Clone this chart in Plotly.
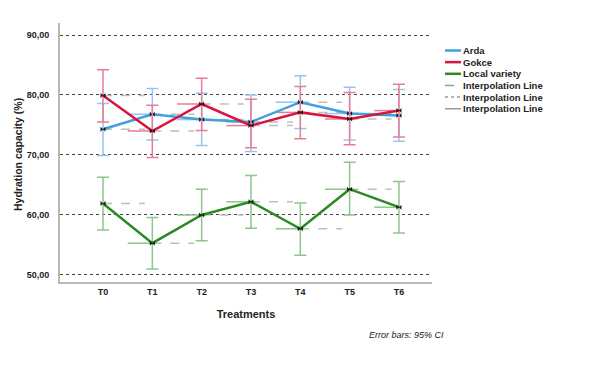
import plotly.graph_objects as go

categories = ["T0", "T1", "T2", "T3", "T4", "T5", "T6"]
series_names = ["Arda", "Gokce", "Local variety"]

arda_mean = [74.3, 76.8, 75.9, 75.5, 78.8, 76.9, 76.6]
arda_low = [69.9, 72.5, 71.6, 70.6, 74.4, 72.5, 72.3]
arda_high = [78.6, 81.1, 80.3, 80.0, 83.2, 81.3, 80.9]

gokce_mean = [79.9, 74.0, 78.5, 74.9, 77.1, 76.0, 77.4]
gokce_low = [75.5, 69.6, 74.1, 71.2, 72.7, 71.7, 73.0]
gokce_high = [84.2, 78.3, 82.8, 79.3, 81.4, 80.4, 81.8]

local_mean = [61.9, 55.3, 60.0, 62.2, 57.7, 64.3, 61.3]
local_low = [57.5, 51.0, 55.7, 57.8, 53.3, 60.0, 57.0]
local_high = [66.3, 59.6, 64.3, 66.6, 62.0, 68.8, 65.6]

yticks = [50, 60, 70, 80, 90]
ytick_labels = ["50,00", "60,00", "70,00", "80,00", "90,00"]

legend_labels = ["Arda", "Gokce", "Local variety",
                 "Interpolation Line", "Interpolation Line", "Interpolation Line"]

line_colors = ["#3fa0de", "#d9143f", "#2b8a25"]
light_colors = ["#96c6f0", "#ea7c95", "#8cc68a"]
legend_colors = line_colors + ["#9a9a9a", "#9a9a9a", "#9a9a9a"]
legend_dash = ["solid", "solid", "solid", "dash", "dot", "solid"]

# page body has an 8px margin; compensate so the chart lands where the reference has it
OFF = 8
W_FIG, H_FIG = 591 - OFF, 365 - OFF
L, R, T, B = 60 - OFF, 432 - OFF, 23 - OFF, 282 - OFF
PW, PH = R - L, B - T

def px(x):
    return (x - OFF - L) / PW

def py(y):
    return (B - (y - OFF)) / PH

xs = list(range(len(categories)))
data = [
    (arda_mean, arda_low, arda_high),
    (gokce_mean, gokce_low, gokce_high),
    (local_mean, local_low, local_high),
]

fig = go.Figure()

# left light step segments
for k, (m, lo, hi) in enumerate(data):
    lx, ly = [], []
    for i in xs[1:]:
        lx += [i - 0.5, i, None]
        ly += [m[i], m[i], None]
    fig.add_trace(go.Scatter(x=lx, y=ly, mode="lines", showlegend=False,
                             line=dict(color=light_colors[k], width=1.5), hoverinfo="skip"))
# right gray dashed interpolation
for k, (m, lo, hi) in enumerate(data):
    gx, gy = [], []
    for i in xs[:-1]:
        gx += [i, i + 0.85, None]
        gy += [m[i], m[i], None]
    fig.add_trace(go.Scatter(x=gx, y=gy, mode="lines", name="Interpolation Line",
                             line=dict(color="#bdbdbd", width=1.5, dash="dash"),
                             showlegend=False, hoverinfo="skip"))

for k, (m, lo, hi) in enumerate(data):
    fig.add_trace(go.Scatter(
        x=xs, y=m, mode="lines+markers", name=series_names[k], showlegend=False,
        line=dict(color=line_colors[k], width=2.5),
        marker=dict(symbol="bowtie", size=5, color="#1a1a1a"),
        error_y=dict(type="data", symmetric=False,
                     array=[h - v for h, v in zip(hi, m)],
                     arrayminus=[v - l for v, l in zip(m, lo)],
                     color=light_colors[k], thickness=1.5, width=6),
    ))

# custom compact legend
shapes = []
annotations = []
leg_x0, leg_x1, leg_text_x = 445, 461, 461
leg_y0, leg_dy = 50.5, 11.65
for j, lab in enumerate(legend_labels):
    yy = leg_y0 + j * leg_dy
    shapes.append(dict(type="line", xref="paper", yref="paper",
                       x0=px(leg_x0), x1=px(leg_x1), y0=py(yy), y1=py(yy),
                       line=dict(color=legend_colors[j], width=2.5 if j < 3 else 1.5,
                                 dash=legend_dash[j])))
    annotations.append(dict(text="<b>%s</b>" % lab, xref="paper", yref="paper",
                            x=px(leg_text_x), y=py(yy), xanchor="left", yanchor="middle",
                            showarrow=False, font=dict(size=9.5, color="#222222")))

annotations.append(dict(text="<i>Error bars: 95% CI</i>", xref="paper", yref="paper",
                        x=px(446), y=py(335), xanchor="right", yanchor="middle",
                        showarrow=False, font=dict(size=9, color="#222222")))

# y-axis title
annotations.append(dict(text="<b>Hydration capacity (%)</b>", xref="paper", yref="paper",
                        x=px(18), y=py(155), xanchor="center", yanchor="middle",
                        textangle=-90, showarrow=False, font=dict(size=10.5, color="#222222")))

fig.update_layout(
    width=W_FIG, height=H_FIG,
    margin=dict(l=L, r=W_FIG - R, t=T, b=H_FIG - B, autoexpand=False),
    paper_bgcolor="white", plot_bgcolor="white",
    font=dict(family="Liberation Sans, Arial, sans-serif", color="#222222"),
    showlegend=False,
    shapes=shapes,
    annotations=annotations,
)
fig.update_xaxes(
    range=[-0.872, 6.67], tickmode="array", tickvals=xs, ticktext=categories,
    showgrid=False, zeroline=False, showline=True, linecolor="#b8b8b8", linewidth=2,
    ticks="", tickfont=dict(size=9, weight="bold"), automargin=False,
    title=dict(text="Treatments", font=dict(size=11, weight="bold"), standoff=15),
)
fig.update_yaxes(
    range=[48.83, 92], tickmode="array", tickvals=yticks, ticktext=ytick_labels,
    showgrid=True, gridcolor="#444444", griddash="dot", gridwidth=1,
    zeroline=False, showline=True, linecolor="#b8b8b8", linewidth=2,
    ticks="", tickfont=dict(size=9, weight="bold"), automargin=False,
    ticklabelstandoff=7,
)

fig.write_html("out.html")
